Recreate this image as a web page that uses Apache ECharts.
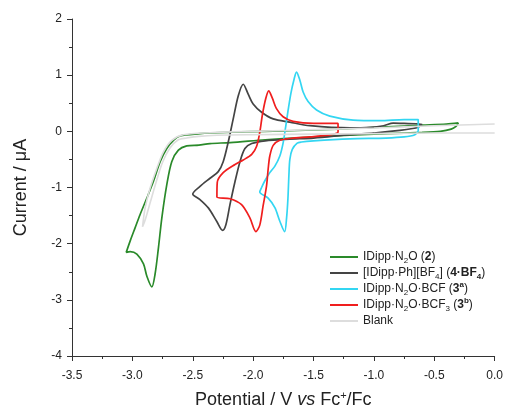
<!DOCTYPE html>
<html>
<head>
<meta charset="utf-8">
<script src="https://cdn.jsdelivr.net/npm/echarts@6/dist/echarts.min.js"></script>
<style>
  html, body { margin: 0; padding: 0; background: #fff; }
  #chart { width: 506px; height: 414px; }
</style>
</head>
<body>
<div id="chart"></div>
<script>
// ---- data (Potential / V, Current / µA) ----
const seriesNames = ['IDipp·N2O (2)', '[IDipp·Ph][BF4] (4·BF4)', 'IDipp·N2O·BCF (3a)', 'IDipp·N2O·BCF3 (3b)', 'Blank'];

const greenCV = [
  [-0.30, 0.15], [-0.32, 0.09], [-0.36, 0.04], [-0.45, 0.00], [-0.60, -0.02], [-0.90, -0.04],
  [-1.20, -0.07], [-1.60, -0.11], [-1.90, -0.15], [-2.19, -0.20], [-2.357, -0.218], [-2.45, -0.245],
  [-2.55, -0.26], [-2.619, -0.336], [-2.674, -0.54], [-2.715, -0.95], [-2.756, -1.54], [-2.784, -2.07],
  [-2.812, -2.54], [-2.839, -2.77], [-2.88, -2.58], [-2.908, -2.36], [-2.963, -2.185], [-3.018, -2.14],
  [-3.051, -2.155], [-3.018, -1.95], [-2.977, -1.715], [-2.936, -1.48], [-2.880, -1.187], [-2.826, -0.893],
  [-2.770, -0.54], [-2.715, -0.306], [-2.660, -0.16], [-2.605, -0.083], [-2.44, -0.042], [-2.357, -0.03],
  [-2.10, -0.01], [-1.70, 0.01], [-1.30, 0.04], [-0.90, 0.08], [-0.60, 0.11], [-0.40, 0.13], [-0.30, 0.15]
];

const blackCV = [
  [-0.60, 0.12], [-0.63, 0.08], [-0.68, 0.05], [-0.785, 0.016], [-1.00, -0.03], [-1.20, -0.06],
  [-1.50, -0.12], [-1.70, -0.14], [-1.90, -0.17], [-2.012, -0.218], [-2.068, -0.306], [-2.109, -0.54],
  [-2.150, -0.893], [-2.192, -1.305], [-2.225, -1.657], [-2.253, -1.762], [-2.302, -1.60], [-2.371, -1.363],
  [-2.44, -1.216], [-2.50, -1.116], [-2.44, -0.98], [-2.357, -0.835], [-2.289, -0.717], [-2.248, -0.54],
  [-2.206, -0.188], [-2.165, 0.222], [-2.123, 0.634], [-2.082, 0.838], [-2.041, 0.662], [-2.00, 0.486],
  [-1.930, 0.34], [-1.834, 0.222], [-1.696, 0.164], [-1.53, 0.10], [-1.20, 0.06], [-1.03, 0.07],
  [-0.92, 0.10], [-0.84, 0.146], [-0.75, 0.14], [-0.65, 0.135], [-0.60, 0.12]
];

const cyanCV = [
  [-0.633, 0.00], [-0.66, -0.06], [-0.75, -0.10], [-0.90, -0.12], [-1.20, -0.135], [-1.50, -0.17],
  [-1.60, -0.19], [-1.635, -0.21], [-1.676, -0.32], [-1.696, -0.50], [-1.704, -0.79], [-1.712, -1.20],
  [-1.723, -1.54], [-1.739, -1.785], [-1.779, -1.60], [-1.82, -1.36], [-1.876, -1.19], [-1.945, -1.08],
  [-1.930, -1.00], [-1.903, -0.88], [-1.862, -0.735], [-1.82, -0.62], [-1.779, -0.44], [-1.752, -0.21],
  [-1.73, 0.09], [-1.71, 0.38], [-1.687, 0.68], [-1.663, 0.91], [-1.641, 1.055], [-1.613, 0.91],
  [-1.586, 0.70], [-1.545, 0.53], [-1.475, 0.38], [-1.365, 0.27], [-1.172, 0.20], [-0.95, 0.19],
  [-0.75, 0.21], [-0.633, 0.21], [-0.633, 0.00]
];

const redCV = [
  [-1.297, -0.025], [-1.352, -0.06], [-1.531, -0.10], [-1.669, -0.12], [-1.779, -0.16], [-1.834, -0.25],
  [-1.862, -0.44], [-1.876, -0.68], [-1.889, -0.97], [-1.917, -1.32], [-1.945, -1.67], [-1.977, -1.785],
  [-2.027, -1.54], [-2.096, -1.305], [-2.192, -1.20], [-2.30, -1.17], [-2.297, -0.91], [-2.248, -0.735],
  [-2.150, -0.59], [-2.082, -0.51], [-2.012, -0.41], [-1.971, -0.266], [-1.945, -0.016], [-1.923, 0.30],
  [-1.895, 0.59], [-1.871, 0.72], [-1.841, 0.59], [-1.808, 0.41], [-1.752, 0.26], [-1.669, 0.178],
  [-1.50, 0.14], [-1.297, 0.14], [-1.297, -0.025]
];

const blankCV = [
  [0.00, -0.03], [-0.50, -0.03], [-1.00, -0.04], [-1.50, -0.05], [-2.00, -0.06], [-2.30, -0.07],
  [-2.45, -0.09], [-2.55, -0.12], [-2.62, -0.15], [-2.69, -0.30], [-2.75, -0.55], [-2.80, -0.88],
  [-2.85, -1.25], [-2.89, -1.55], [-2.916, -1.70], [-2.894, -1.36], [-2.853, -1.01], [-2.798, -0.66],
  [-2.743, -0.365], [-2.674, -0.16], [-2.578, -0.06], [-2.357, -0.025], [-2.00, 0.00], [-1.50, 0.03],
  [-1.00, 0.06], [-0.50, 0.10], [0.00, 0.13]
];

const xTicks = { min: -3.5, max: 0, step: 0.5 };
const yTicks = { min: -4, max: 2, step: 1 };

// ---- chart ----
const FONT = 'Liberation Sans, Arial, Helvetica, sans-serif';
const colors = ['#2a8a2a', '#444444', '#33d6f2', '#f01e1e', '#dddddd'];
const curves = [greenCV, blackCV, cyanCV, redCV, blankCV];

const legendLabels = {
  [seriesNames[0]]: '{n|IDipp·N}{sub|2}{n|O (}{b|2}{n|)}',
  [seriesNames[1]]: '{n|[IDipp·Ph][BF}{sub|4}{n|] (}{b|4·BF}{bsub|4}{n|)}',
  [seriesNames[2]]: '{n|IDipp·N}{sub|2}{n|O·BCF (}{b|3}{bsup|a}{n|)}',
  [seriesNames[3]]: '{n|IDipp·N}{sub|2}{n|O·BCF}{sub|3}{n| (}{b|3}{bsup|b}{n|)}',
  [seriesNames[4]]: '{n|Blank}'
};

const chart = echarts.init(document.getElementById('chart'), null, { renderer: 'canvas' });

const axisCommon = {
  axisLine: { show: true, onZero: false, lineStyle: { color: '#333', width: 1 } },
  axisTick: { show: true, inside: false, length: 5, lineStyle: { color: '#333' } },
  minorTick: { show: true, splitNumber: 2, length: 3, lineStyle: { color: '#333' } },
  splitLine: { show: false },
  minorSplitLine: { show: false }
};

chart.setOption({
  animation: false,
  backgroundColor: '#ffffff',
  textStyle: { fontFamily: FONT },
  grid: { left: 72, right: 11, top: 19, bottom: 54, containLabel: false },
  xAxis: Object.assign({
    type: 'value', min: xTicks.min, max: xTicks.max, interval: xTicks.step,
    name: '{t|Potential / V }{i|vs}{t| Fc}{sup|+}{t|/Fc}',
    nameLocation: 'middle', nameGap: 34,
    nameTextStyle: {
      rich: {
        t: { fontSize: 18, color: '#222', fontFamily: FONT, lineHeight: 20 },
        i: { fontSize: 18, color: '#222', fontFamily: FONT, fontStyle: 'italic', lineHeight: 20 },
        sup: { fontSize: 11, color: '#222', fontFamily: FONT, lineHeight: 10, verticalAlign: 'top' }
      }
    },
    axisLabel: { fontSize: 12, color: '#222', fontFamily: FONT, margin: 14,
      formatter: v => v.toFixed(1) }
  }, axisCommon),
  yAxis: Object.assign({
    type: 'value', min: yTicks.min, max: yTicks.max, interval: yTicks.step,
    name: 'Current / μA', nameLocation: 'middle', nameRotate: 90, nameGap: 42,
    nameTextStyle: { fontSize: 18, color: '#222', fontFamily: FONT },
    axisLabel: { fontSize: 12, color: '#222', fontFamily: FONT, margin: 10 }
  }, axisCommon),
  legend: {
    orient: 'vertical', left: 330, top: 249, padding: 0, itemGap: 0,
    icon: 'rect', itemWidth: 28, itemHeight: 2,
    data: seriesNames,
    formatter: name => legendLabels[name],
    textStyle: {
      fontFamily: FONT, fontSize: 12, color: '#222', lineHeight: 16,
      rich: {
        n: { fontSize: 12, color: '#222', fontFamily: FONT, lineHeight: 16 },
        b: { fontSize: 12, color: '#222', fontFamily: FONT, fontWeight: 'bold', lineHeight: 16 },
        sub: { fontSize: 8, color: '#222', fontFamily: FONT, lineHeight: 8, verticalAlign: 'bottom' },
        bsub: { fontSize: 8, color: '#222', fontFamily: FONT, fontWeight: 'bold', lineHeight: 8, verticalAlign: 'bottom' },
        bsup: { fontSize: 8, color: '#222', fontFamily: FONT, fontWeight: 'bold', lineHeight: 8, verticalAlign: 'top' }
      }
    }
  },
  series: curves.map((d, i) => ({
    name: seriesNames[i],
    type: 'line',
    data: d,
    showSymbol: false,
    symbol: 'none',
    smooth: 0.3,
    color: colors[i],
    itemStyle: { color: colors[i] },
    lineStyle: { color: colors[i], width: i === 4 ? 1.6 : 1.7 },
    z: 2 + i
  }))
});
</script>
</body>
</html>
